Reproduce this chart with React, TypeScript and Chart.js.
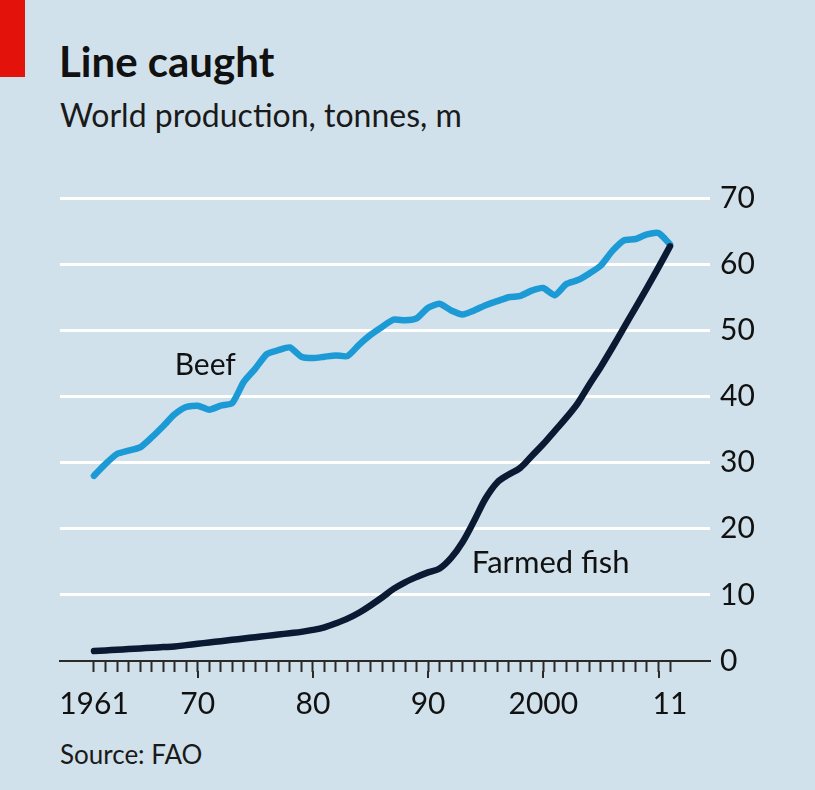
import React, { useEffect, useRef } from "react";
import { Chart, registerables } from "chart.js";

Chart.register(...registerables);

const years = [
  1961, 1962, 1963, 1964, 1965, 1966, 1967, 1968, 1969, 1970,
  1971, 1972, 1973, 1974, 1975, 1976, 1977, 1978, 1979, 1980,
  1981, 1982, 1983, 1984, 1985, 1986, 1987, 1988, 1989, 1990,
  1991, 1992, 1993, 1994, 1995, 1996, 1997, 1998, 1999, 2000,
  2001, 2002, 2003, 2004, 2005, 2006, 2007, 2008, 2009, 2010,
  2011,
];

const beef = [
  28.0, 29.8, 31.3, 31.8, 32.3, 33.8, 35.5, 37.3, 38.4, 38.6,
  38.0, 38.6, 39.0, 42.2, 44.2, 46.4, 47.0, 47.4, 46.0, 45.8,
  46.0, 46.2, 46.1, 47.8, 49.3, 50.5, 51.6, 51.5, 51.8, 53.4,
  54.0, 53.0, 52.4, 53.0, 53.8, 54.4, 55.0, 55.2, 56.0, 56.4,
  55.3, 57.0, 57.6, 58.6, 59.8, 62.0, 63.6, 63.8, 64.5, 64.7,
  63.0,
];

const farmedFish = [
  1.5, 1.6, 1.7, 1.8, 1.9, 2.0, 2.1, 2.2, 2.4, 2.6,
  2.8, 3.0, 3.2, 3.4, 3.6, 3.8, 4.0, 4.2, 4.4, 4.7,
  5.1, 5.7, 6.4, 7.3, 8.4, 9.6, 10.9, 11.9, 12.7, 13.4,
  14.0, 15.6, 18.0, 21.2, 24.6, 27.0, 28.2, 29.2, 31.0, 32.8,
  34.8, 36.8, 39.0, 41.8, 44.5, 47.4, 50.4, 53.4, 56.4, 59.5,
  62.7,
];

const yTickValues = [0, 10, 20, 30, 40, 50, 60, 70];
const xLabelYears = [1961, 1970, 1980, 1990, 2000, 2011];
const xLabelTexts = ["1961", "70", "80", "90", "2000", "11"];
const majorTickYears = [1970, 1980, 1990, 2000, 2010];

const BG = "#d0e1eb";
const BEEF_COLOR = "#1c9ad6";
const FISH_COLOR = "#0b1a33";
const FONT = "Lato, 'Open Sans', sans-serif";

export default function App() {
  const canvasRef = useRef<HTMLCanvasElement | null>(null);

  useEffect(() => {
    document.body.style.margin = "0";
    const canvas = canvasRef.current;
    if (!canvas) return;

    const extrasPlugin = {
      id: "extras",
      afterDraw(chart: any) {
        const ctx = chart.ctx;
        const xs = chart.scales.x;
        const ys = chart.scales.y;
        const bottom = chart.chartArea.bottom;
        ctx.save();
        // longer decade ticks
        ctx.strokeStyle = "#2a2a2a";
        ctx.lineWidth = 2;
        majorTickYears.forEach((yr) => {
          const px = Math.round(xs.getPixelForValue(yr));
          ctx.beginPath();
          ctx.moveTo(px, bottom + 10);
          ctx.lineTo(px, bottom + 17);
          ctx.stroke();
        });
        // series labels
        ctx.fillStyle = "#111";
        ctx.font = "30px " + FONT;
        ctx.textBaseline = "alphabetic";
        ctx.textAlign = "left";
        ctx.fillText("Beef", xs.getPixelForValue(1968.0), ys.getPixelForValue(43.2));
        ctx.font = "31px " + FONT;
        ctx.fillText("Farmed fish", xs.getPixelForValue(1993.8), ys.getPixelForValue(13.3));
        ctx.restore();
      },
    };

    const chart = new Chart(canvas, {
      type: "line",
      data: {
        datasets: [
          {
            label: "Farmed fish",
            data: years.map((y, i) => ({ x: y, y: farmedFish[i] })),
            borderColor: FISH_COLOR,
            borderWidth: 6.5,
            pointRadius: 0,
            tension: 0.35,
            borderCapStyle: "round",
            borderJoinStyle: "round",
          },
          {
            label: "Beef",
            data: years.map((y, i) => ({ x: y, y: beef[i] })),
            borderColor: BEEF_COLOR,
            borderWidth: 6.5,
            pointRadius: 0,
            tension: 0.2,
            borderCapStyle: "round",
            borderJoinStyle: "round",
          },
        ],
      },
      options: {
        animation: false,
        responsive: false,
        devicePixelRatio: 1,
        layout: { padding: { left: 60, top: 198, right: 0, bottom: 0 } },
        plugins: {
          legend: { display: false },
          tooltip: { enabled: false },
        },
        scales: {
          x: {
            type: "linear",
            min: 1958.05,
            max: 2014.47,
            afterBuildTicks(scale: any) {
              scale.ticks = years.map((v) => ({ value: v }));
            },
            afterFit(scale: any) {
              scale.height = 129;
            },
            border: { display: true, color: "#2a2a2a", width: 2 },
            grid: {
              drawOnChartArea: false,
              drawTicks: true,
              tickLength: 11,
              tickColor: "#2a2a2a",
              tickWidth: 2,
            },
            ticks: {
              autoSkip: false,
              maxRotation: 0,
              minRotation: 0,
              padding: 14,
              color: "#111",
              font: { family: FONT, size: 30 },
              callback(value: any) {
                const idx = xLabelYears.indexOf(Number(value));
                return idx >= 0 ? xLabelTexts[idx] : "";
              },
            },
          },
          y: {
            type: "linear",
            position: "right",
            min: 0,
            max: 70,
            afterBuildTicks(scale: any) {
              scale.ticks = yTickValues.map((v) => ({ value: v }));
            },
            afterFit(scale: any) {
              scale.width = 105;
            },
            border: { display: false },
            grid: {
              drawTicks: false,
              lineWidth: 3,
              color: (c: any) => (c.tick && c.tick.value === 0 ? "rgba(0,0,0,0)" : "#ffffff"),
            },
            ticks: {
              padding: 10,
              color: "#111",
              font: { family: FONT, size: 30 },
              callback(value: any) {
                return String(value);
              },
            },
          },
        },
      },
      plugins: [extrasPlugin],
    } as any);

    return () => chart.destroy();
  }, []);

  return (
    <div
      style={{
        position: "absolute",
        left: 0,
        top: 0,
        width: 815,
        height: 790,
        background: BG,
        overflow: "hidden",
        fontFamily: FONT,
        color: "#111",
      }}
    >
      <div style={{ position: "absolute", left: 0, top: 0, width: 25, height: 77, background: "#e3120b" }} />
      <div
        style={{
          position: "absolute",
          left: 59,
          top: 40,
          fontSize: 42,
          fontWeight: 700,
          lineHeight: 1,
          whiteSpace: "nowrap",
        }}
      >
        Line caught
      </div>
      <div
        style={{
          position: "absolute",
          left: 60,
          top: 99,
          fontSize: 32,
          lineHeight: 1,
          whiteSpace: "nowrap",
          color: "#1a1a1a",
        }}
      >
        World production, tonnes, m
      </div>
      <div
        style={{
          position: "absolute",
          left: 60,
          top: 741,
          fontSize: 26,
          lineHeight: 1,
          whiteSpace: "nowrap",
          color: "#1a1a1a",
        }}
      >
        Source: FAO
      </div>
      <canvas
        ref={canvasRef}
        width={815}
        height={790}
        style={{ position: "absolute", left: 0, top: 0, width: 815, height: 790 }}
      />
    </div>
  );
}
